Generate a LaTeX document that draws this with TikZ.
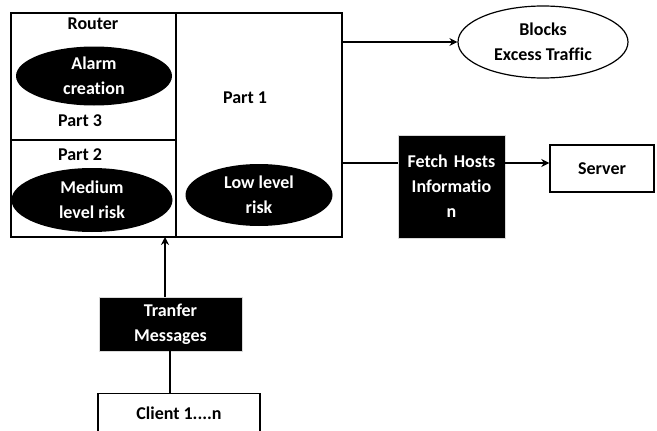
\documentclass[tikz,border=0pt]{standalone}
\usepackage{fontspec}
\setmainfont[Ligatures=NoCommon]{Carlito}
\usetikzlibrary{shapes.geometric,arrows.meta}
\begin{document}
\begin{tikzpicture}[x=1pt,y=-1pt,
  every node/.style={font=\fontsize{18}{25}\selectfont\bfseries, align=center, inner sep=0pt},
  line/.style={draw=black, line width=1.4pt},
  arr/.style={line, -{Stealth[length=8pt,width=8pt]}},
  blk/.style={fill=black, text=white},
  blkell/.style={ellipse, blk},
  whiteell/.style={ellipse, draw=black, line width=1.2pt, fill=white},
  box/.style={draw=black, line width=1.4pt, fill=white},
  blkbox/.style={blk, draw=black!15, line width=0.8pt}
]
\useasboundingbox (0,0) rectangle (657,431);
% router frame
\node[box, minimum width=331pt, minimum height=224pt] (router) at (176.5,125) {};
\draw[line] (176,13) coordinate (divt) -- (176,237) coordinate (divb);
\draw[line] (11,140) coordinate (hl) -- (176,140) coordinate (hr);
\node (routerlbl) at (93,24) {Router};
\node[blkell, minimum width=156pt, minimum height=59pt] (alarm) at (94,76) {Alarm\\creation};
\node (part3) at (80,121) {Part 3};
\node (part2) at (80,155) {Part 2};
\node[blkell, minimum width=161pt, minimum height=64pt] (medium) at (92,200) {Medium\\level risk};
\node (part1) at (245,98) {Part 1};
\node[blkell, minimum width=147pt, minimum height=62pt] (low) at (259,195) {Low level\\risk};
% right side
\node[whiteell, minimum width=170pt, minimum height=72pt] (blocks) at (543,42) {Blocks\\Excess Traffic};
\coordinate (o1) at (342,42);
\draw[arr] (o1) -- (blocks.west);
\node[blkbox, minimum width=107pt, minimum height=103pt, text width=100pt] (fetch) at (451.5,186.5) {Fetch Hosts\\Informatio\\n};
\coordinate (o2) at (342,163);
\draw[line] (o2) -- (fetch.west |- o2);
\node[box, minimum width=104pt, minimum height=47pt] (server) at (602,168.5) {Server};
\draw[arr] (505,163) -- (server.west |- 0,163);
% bottom
\node[blkbox, minimum width=143pt, minimum height=54pt] (transfer) at (170.5,324) {Tranfer\\Messages};
\coordinate (rb) at (165,237);
\draw[arr] (transfer.north -| rb) -- (rb);
\node[box, minimum width=162pt, minimum height=50pt, anchor=north] (client) at (179,393) {};
\node (clientlbl) at (179,413) {Client 1....n};
\draw[line] (transfer.south -| 170,0) -- (client.north -| 170,0);
\end{tikzpicture}
\end{document}
